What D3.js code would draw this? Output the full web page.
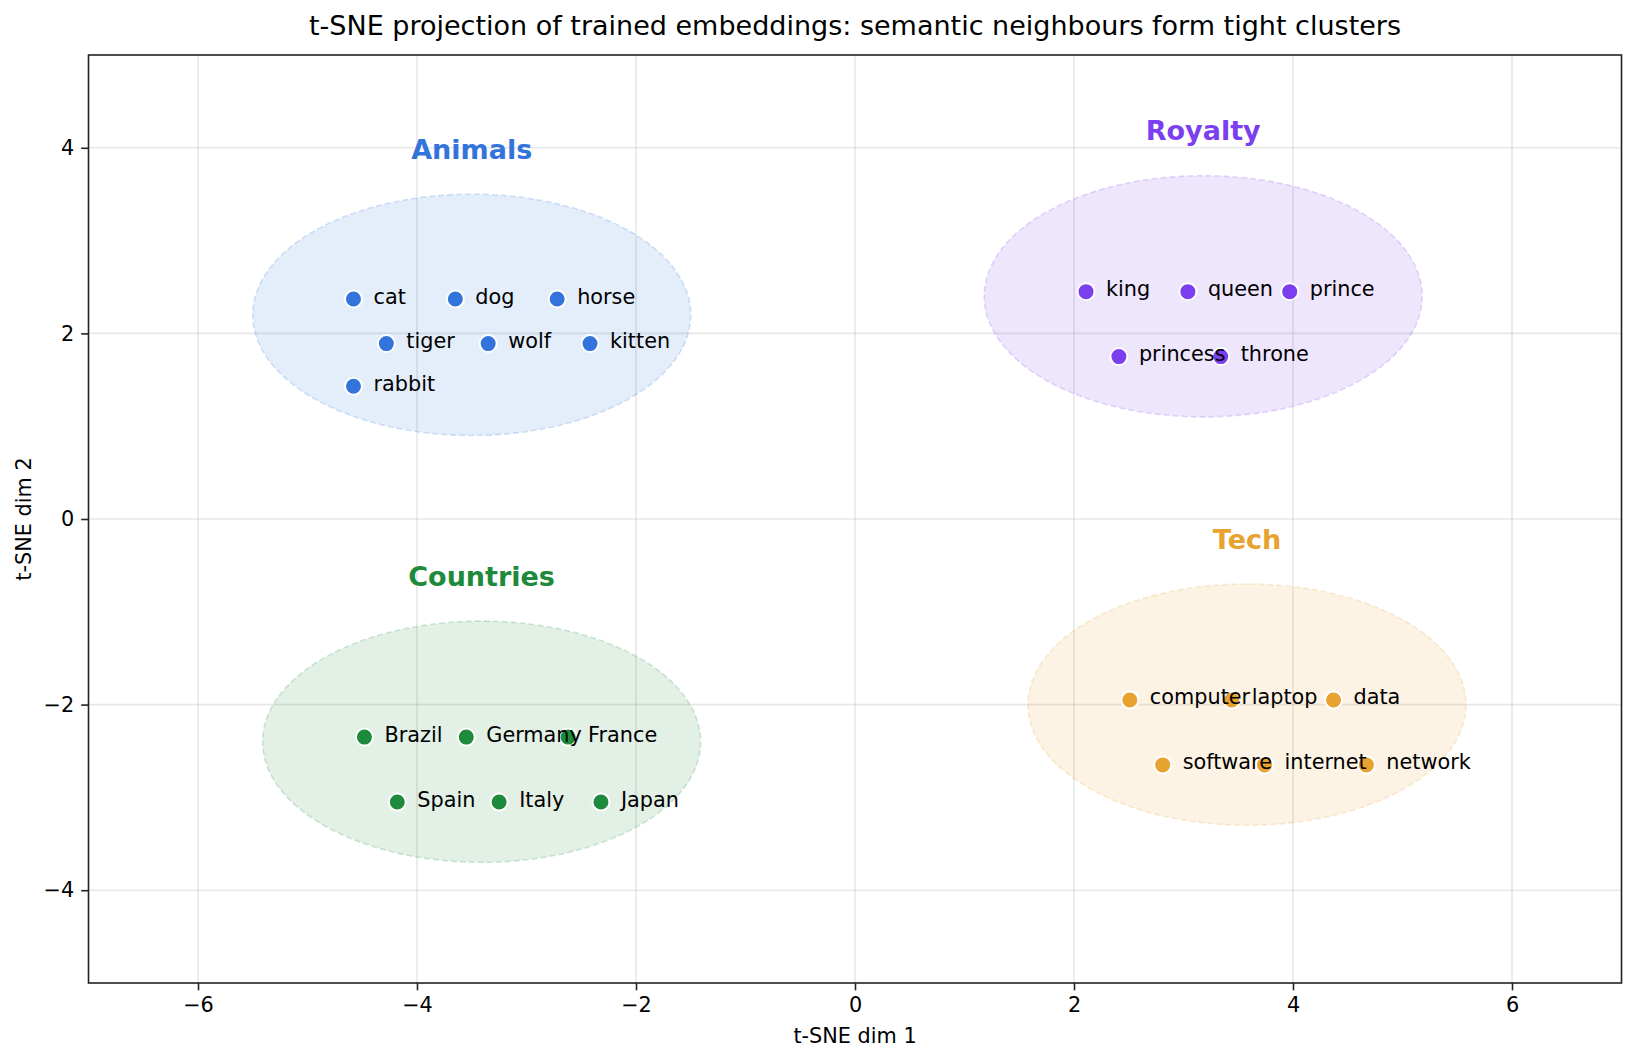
<!DOCTYPE html>
<html>
<head>
<meta charset="utf-8">
<script src="https://cdn.jsdelivr.net/npm/d3@7"></script>
<style>
  body { margin: 0; background: #fff; }
  svg { font-family: "DejaVu Sans", sans-serif; }
</style>
</head>
<body>
<svg id="plot1" width="1634" height="1061"></svg>
<script>
// cluster info
var clusterNames = ["Animals", "Royalty", "Countries", "Tech"];
var clusterColors = ["#3274db", "#7b3ff0", "#1e8a3c", "#e8a22f"];
var clusterCx = [-3.5, 3.18, -3.41, 3.58];
var clusterCy = [2.2, 2.4, -2.4, -2.0];

// words per cluster
var animalsWords = ["cat", "dog", "horse", "tiger", "wolf", "kitten", "rabbit"];
var animalsX = [-4.58, -3.65, -2.72, -4.28, -3.35, -2.42, -4.58];
var animalsY = [2.37, 2.37, 2.37, 1.89, 1.89, 1.89, 1.43];

var royaltyWords = ["king", "queen", "prince", "princess", "throne"];
var royaltyX = [2.11, 3.04, 3.97, 2.41, 3.34];
var royaltyY = [2.45, 2.45, 2.45, 1.75, 1.75];

var countriesWords = ["Brazil", "Germany", "France", "Spain", "Italy", "Japan"];
var countriesX = [-4.48, -3.55, -2.62, -4.18, -3.25, -2.32];
var countriesY = [-2.35, -2.35, -2.35, -3.05, -3.05, -3.05];

var techWords = ["computer", "laptop", "data", "software", "internet", "network"];
var techX = [2.51, 3.44, 4.37, 2.81, 3.74, 4.67];
var techY = [-1.95, -1.95, -1.95, -2.65, -2.65, -2.65];

var xTicks = [-6, -4, -2, 0, 2, 4, 6];
var yTicks = [-4, -2, 0, 2, 4];

var svg = d3.select("#plot1"),
    margin = {top: 55, right: 12.5, bottom: 78, left: 88.5},
    width = +svg.attr("width") - margin.left - margin.right,
    height = +svg.attr("height") - margin.top - margin.bottom;

var x = d3.scaleLinear().domain([-7, 7]).range([0, width]),
    y = d3.scaleLinear().domain([-5, 5]).range([height, 0]);

var g = svg.append("g")
    .attr("transform", "translate(" + margin.left + "," + margin.top + ")");

// put the words into one list of points
var wordSets = [
    {words: animalsWords, xs: animalsX, ys: animalsY},
    {words: royaltyWords, xs: royaltyX, ys: royaltyY},
    {words: countriesWords, xs: countriesX, ys: countriesY},
    {words: techWords, xs: techX, ys: techY}
];
var points = [];
wordSets.forEach(function(s, c) {
    s.words.forEach(function(w, i) {
        points.push({word: w, x: s.xs[i], y: s.ys[i], cluster: c});
    });
});

// grid
g.selectAll(".vgrid")
    .data(xTicks)
    .enter()
    .append("line")
    .attr("x1", function(d) { return x(d); })
    .attr("x2", function(d) { return x(d); })
    .attr("y1", 0)
    .attr("y2", height)
    .attr("stroke", "#b0b0b0")
    .attr("stroke-opacity", 0.3)
    .attr("stroke-width", 1.6);

g.selectAll(".hgrid")
    .data(yTicks)
    .enter()
    .append("line")
    .attr("x1", 0)
    .attr("x2", width)
    .attr("y1", function(d) { return y(d); })
    .attr("y2", function(d) { return y(d); })
    .attr("stroke", "#b0b0b0")
    .attr("stroke-opacity", 0.3)
    .attr("stroke-width", 1.6);

// cluster ellipses (2.0 x 1.3 data units)
g.selectAll(".hull")
    .data(clusterNames)
    .enter()
    .append("ellipse")
    .attr("cx", function(d, i) { return x(clusterCx[i]); })
    .attr("cy", function(d, i) { return y(clusterCy[i]); })
    .attr("rx", x(2) - x(0))
    .attr("ry", y(0) - y(1.3))
    .attr("fill", function(d, i) { return clusterColors[i]; })
    .attr("fill-opacity", 0.13)
    .attr("stroke", function(d, i) { return clusterColors[i]; })
    .attr("stroke-opacity", 0.2)
    .attr("stroke-width", 1.6)
    .attr("stroke-dasharray", "6,3");

// cluster titles
g.selectAll(".clusterLabel")
    .data(clusterNames)
    .enter()
    .append("text")
    .attr("x", function(d, i) { return x(clusterCx[i]); })
    .attr("y", function(d, i) { return y(clusterCy[i] + 1.68); })
    .attr("text-anchor", "middle")
    .attr("font-size", "27px")
    .attr("font-weight", "bold")
    .attr("fill", function(d, i) { return clusterColors[i]; })
    .text(function(d) { return d; });

// points
g.selectAll(".dot")
    .data(points)
    .enter()
    .append("circle")
    .attr("cx", function(d) { return x(d.x); })
    .attr("cy", function(d) { return y(d.y); })
    .attr("r", 8.5)
    .attr("fill", function(d) { return clusterColors[d.cluster]; })
    .attr("stroke", "#fff")
    .attr("stroke-width", 2);

g.selectAll(".word")
    .data(points)
    .enter()
    .append("text")
    .attr("x", function(d) { return x(d.x) + 20; })
    .attr("y", function(d) { return y(d.y) + 4.5; })
    .attr("font-size", "20.8px")
    .attr("fill", "#000")
    .text(function(d) { return d.word; });

// axes
var xAxis = g.append("g")
    .attr("transform", "translate(0," + height + ")")
    .call(d3.axisBottom(x).tickValues(xTicks).tickSize(7.3).tickPadding(7)
        .tickFormat(function(d) { return d3.format("d")(d).replace("-", "\u2212"); }));

var yAxis = g.append("g")
    .call(d3.axisLeft(y).tickValues(yTicks).tickSize(7.3).tickPadding(7)
        .tickFormat(function(d) { return d3.format("d")(d).replace("-", "\u2212"); }));

[xAxis, yAxis].forEach(function(a) {
    a.selectAll("text").attr("font-size", "20.8px").attr("fill", "#000")
        .attr("font-family", "DejaVu Sans, sans-serif");
    a.selectAll("line").attr("stroke", "#222").attr("stroke-width", 1.6);
    a.select(".domain").remove();
});

// frame
g.append("rect")
    .attr("x", 0)
    .attr("y", 0)
    .attr("width", width)
    .attr("height", height)
    .attr("fill", "none")
    .attr("stroke", "#222")
    .attr("stroke-width", 1.6);

// labels
svg.append("text")
    .attr("x", margin.left + width / 2)
    .attr("y", 35)
    .attr("text-anchor", "middle")
    .attr("font-size", "27px")
    .attr("fill", "#000")
    .text("t-SNE projection of trained embeddings: semantic neighbours form tight clusters");

svg.append("text")
    .attr("x", margin.left + width / 2)
    .attr("y", 1043)
    .attr("text-anchor", "middle")
    .attr("font-size", "20.8px")
    .attr("fill", "#000")
    .text("t-SNE dim 1");

svg.append("text")
    .attr("transform", "translate(31," + (margin.top + height / 2) + ") rotate(-90)")
    .attr("text-anchor", "middle")
    .attr("font-size", "20.8px")
    .attr("fill", "#000")
    .text("t-SNE dim 2");
</script>
</body>
</html>
